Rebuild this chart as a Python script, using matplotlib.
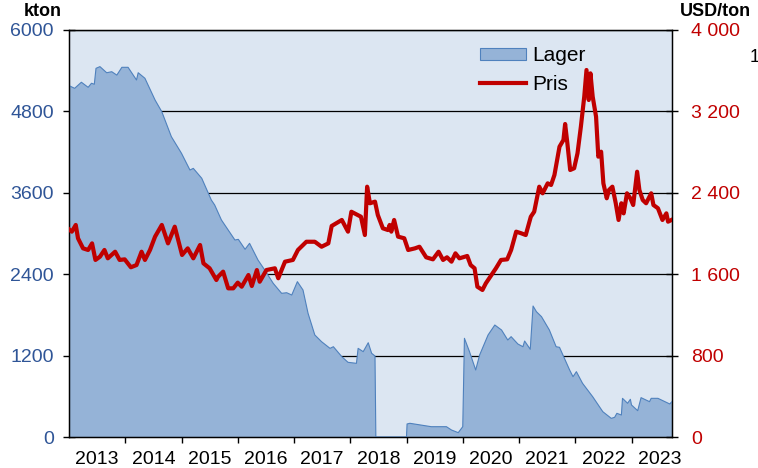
import matplotlib
matplotlib.use("Agg")
import matplotlib.pyplot as plt
from matplotlib.patches import Patch
from matplotlib.lines import Line2D

plt.rcParams['font.family'] = ['Liberation Sans', 'DejaVu Sans']

# lager (kton), tid i decimalår
lager_t = [2013.0, 2013.1, 2013.22, 2013.34, 2013.40, 2013.45, 2013.48, 2013.55, 2013.67, 2013.76,
           2013.85, 2013.94, 2014.05, 2014.20, 2014.23, 2014.35, 2014.53, 2014.65, 2014.82, 2015.0,
           2015.15, 2015.21, 2015.36, 2015.53, 2015.59, 2015.71, 2015.95, 2016.01, 2016.13, 2016.21,
           2016.36, 2016.48, 2016.63, 2016.78, 2016.87, 2016.96, 2017.06, 2017.16, 2017.25, 2017.37,
           2017.49, 2017.64, 2017.70, 2017.85, 2017.96, 2018.11, 2018.14, 2018.23, 2018.32, 2018.38,
           2018.44, 2018.455, 2019.0, 2019.01, 2019.06, 2019.44, 2019.71, 2019.80, 2019.92, 2020.0,
           2020.03, 2020.12, 2020.23, 2020.30, 2020.45, 2020.57, 2020.69, 2020.80, 2020.86, 2020.98,
           2021.07, 2021.10, 2021.20, 2021.25, 2021.31, 2021.40, 2021.54, 2021.66, 2021.72, 2021.90,
           2021.96, 2022.02, 2022.13, 2022.31, 2022.49, 2022.64, 2022.70, 2022.74, 2022.82, 2022.84,
           2022.93, 2022.98, 2023.0, 2023.11, 2023.17, 2023.32, 2023.35, 2023.47, 2023.68, 2023.72]
lager = [5180, 5140, 5230, 5155, 5215, 5200, 5435, 5460, 5370, 5385,
         5335, 5450, 5450, 5263, 5370, 5288, 4968, 4795, 4427, 4182,
         3936, 3960, 3814, 3494, 3420, 3199, 2904, 2914, 2767, 2855,
         2609, 2462, 2266, 2118, 2127, 2093, 2290, 2167, 1823, 1504,
         1405, 1307, 1331, 1184, 1101, 1086, 1307, 1258, 1390, 1234,
         1194, 0, 0, 192, 202, 152, 152, 103, 64, 152,
         1455, 1258, 988, 1209, 1504, 1651, 1577, 1430, 1479, 1371,
         1331, 1415, 1293, 1931, 1847, 1774, 1577, 1331, 1322, 988,
         889, 963, 791, 594, 373, 275, 290, 349, 324, 570,
         497, 556, 472, 388, 580, 521, 570, 570, 487, 521]

# pris (USD/ton)
pris_t = [2013.0, 2013.05, 2013.12, 2013.16, 2013.25, 2013.34, 2013.41, 2013.47, 2013.55, 2013.63,
          2013.69, 2013.82, 2013.90, 2013.99, 2014.10, 2014.20, 2014.29, 2014.35, 2014.44, 2014.53,
          2014.65, 2014.76, 2014.88, 2015.01, 2015.11, 2015.21, 2015.33, 2015.39, 2015.50, 2015.62,
          2015.65, 2015.74, 2015.83, 2015.92, 2016.0, 2016.07, 2016.19, 2016.25, 2016.34, 2016.39,
          2016.51, 2016.66, 2016.72, 2016.84, 2016.98, 2017.07, 2017.22, 2017.37, 2017.49, 2017.61,
          2017.67, 2017.85, 2017.96, 2018.02, 2018.19, 2018.26, 2018.30, 2018.35, 2018.44, 2018.49,
          2018.58, 2018.67, 2018.70, 2018.73, 2018.78, 2018.85, 2018.96, 2019.03, 2019.15, 2019.23,
          2019.35, 2019.47, 2019.57, 2019.65, 2019.72, 2019.80, 2019.87, 2019.94, 2020.08, 2020.14,
          2020.21, 2020.26, 2020.35, 2020.41, 2020.49, 2020.59, 2020.68, 2020.79, 2020.86, 2020.95,
          2021.04, 2021.12, 2021.21, 2021.27, 2021.36, 2021.42, 2021.51, 2021.57, 2021.63, 2021.72,
          2021.79, 2021.82, 2021.86, 2021.91, 2021.98, 2022.04, 2022.10, 2022.16, 2022.20, 2022.24,
          2022.27, 2022.31, 2022.37, 2022.41, 2022.46, 2022.50, 2022.56, 2022.60, 2022.66, 2022.72,
          2022.77, 2022.82, 2022.86, 2022.92, 2022.98, 2023.03, 2023.10, 2023.14, 2023.20, 2023.26,
          2023.35, 2023.39, 2023.47, 2023.55, 2023.62, 2023.65, 2023.71]
pris = [2041, 2018, 2084, 1953, 1854, 1838, 1903, 1740, 1772, 1838,
        1756, 1821, 1740, 1746, 1668, 1690, 1821, 1740, 1838, 1969,
        2084, 1903, 2067, 1789, 1854, 1756, 1887, 1707, 1658, 1543,
        1575, 1625, 1461, 1461, 1517, 1477, 1592, 1484, 1641, 1526,
        1641, 1658, 1560, 1723, 1740, 1838, 1919, 1919, 1870, 1903,
        2074, 2133, 2018, 2214, 2165, 1985, 2460, 2297, 2313, 2182,
        2051, 2034, 2084, 2018, 2133, 1969, 1953, 1838, 1854, 1870,
        1766, 1746, 1821, 1740, 1766, 1723, 1805, 1756, 1779, 1690,
        1658, 1477, 1445, 1510, 1575, 1658, 1740, 1746, 1838, 2018,
        2002, 1985, 2165, 2214, 2460, 2395, 2493, 2477, 2575, 2853,
        2919, 3076, 2886, 2624, 2641, 2788, 3050, 3345, 3607, 3312,
        3574, 3345, 3148, 2755, 2804, 2493, 2346, 2428, 2460, 2297,
        2133, 2297, 2198, 2395, 2346, 2280, 2607, 2428, 2329, 2297,
        2395, 2280, 2248, 2133, 2198, 2116, 2133]

years = list(range(2013, 2024))
left_ticks = [0, 1200, 2400, 3600, 4800, 6000]
right_ticks = [0, 800, 1600, 2400, 3200, 4000]
right_labels = ['0', '800', '1 600', '2 400', '3 200', '4 000']

blue = '#2f5597'
red = '#c00000'

fig = plt.figure(figsize=(7.58, 4.68), dpi=100)
ax = fig.add_axes([69 / 758, 1 - 437 / 468, 603 / 758, 407 / 468])
ax.set_facecolor('#dce6f2')
ax.set_axisbelow(True)

ax.fill_between(lager_t, lager, 0, facecolor='#95b3d7', edgecolor='none', zorder=2)
ax.plot(lager_t, lager, color='#4f81bd', lw=0.8, zorder=3)

ax.set_xlim(2013, 2023.72)
ax.set_ylim(0, 6000)
ax.set_yticks(left_ticks)
ax.tick_params(axis='y', colors=blue, labelsize=14, direction='inout', length=8, width=1, pad=7)
ax.tick_params(axis='y', which='major', color='black')
ax.yaxis.grid(True, color='black', lw=0.9)

# årstal mellan tickarna
ax.set_xticks(years[1:])
ax.set_xticks([y + 0.5 for y in years], minor=True)
ax.set_xticklabels([str(y) for y in years], minor=True)
ax.tick_params(axis='x', which='major', labelbottom=False, direction='inout', length=8, width=1)
ax.tick_params(axis='x', which='minor', length=0, labelsize=14, pad=10)

for s in ax.spines.values():
    s.set_color('black')
    s.set_linewidth(1)

ax2 = ax.twinx()
ax2.plot(pris_t, pris, color=red, lw=3, solid_joinstyle='round', zorder=4)
ax2.set_ylim(0, 4000)
ax2.set_yticks(right_ticks)
ax2.set_yticklabels(right_labels)
ax2.tick_params(axis='y', colors=red, labelsize=14, direction='inout', length=8, width=1, pad=10)
ax2.tick_params(axis='y', color='black')
for s in ax2.spines.values():
    s.set_color('black')

handles = [Patch(facecolor='#95b3d7', edgecolor='#4f81bd', lw=0.8),
           Line2D([0], [0], color=red, lw=3)]
ax2.legend(handles, ['Lager', 'Pris'], loc='upper left', bbox_to_anchor=(0.668, 0.98),
           frameon=False, fontsize=15, handlelength=2.2, handleheight=0.5, handletextpad=0.3,
           labelspacing=0.45, borderaxespad=0)

fig.text(43 / 758, 1 - 12 / 468, 'kton', ha='center', va='center', fontsize=13, fontweight='bold')
fig.text(715 / 758, 1 - 12 / 468, 'USD/ton', ha='center', va='center', fontsize=13, fontweight='bold')
fig.text(750 / 758, 1 - 58 / 468, '1', ha='left', va='center', fontsize=13)

fig.savefig('out.png', dpi=100)
